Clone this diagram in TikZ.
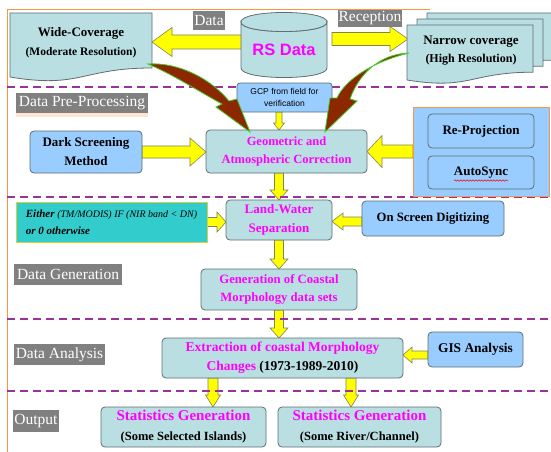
\documentclass[tikz,border=0pt]{standalone}
\usepackage{fontspec}
\setmainfont{Liberation Serif}
\newfontfamily\tnr{Liberation Serif}
\newfontfamily\arialf{Liberation Sans}
\usetikzlibrary{calc,decorations.pathmorphing}

\definecolor{boxcyan}{RGB}{185,223,227}
\definecolor{boxblue}{RGB}{153,204,255}
\definecolor{boxgray}{RGB}{95,110,112}
\definecolor{tealbox}{RGB}{51,204,204}
\definecolor{tealedge}{RGB}{210,210,60}
\definecolor{purp}{RGB}{153,51,153}
\definecolor{orng}{RGB}{247,150,70}
\definecolor{lblgray}{RGB}{128,128,128}
\definecolor{brownr}{RGB}{140,40,0}
\definecolor{grn}{RGB}{70,200,40}
\definecolor{yell}{RGB}{255,255,0}
\definecolor{yedge}{RGB}{130,130,90}
\definecolor{mag}{RGB}{255,0,255}

\newcommand\fs[2]{\tnr\fontsize{#1}{#2}\selectfont}

\pgfdeclarelayer{background}
\pgfdeclarelayer{middle}
\pgfsetlayers{background,middle,main}

\tikzset{
  cbox/.style={draw=boxgray, fill=boxcyan, rounded corners=4pt, line width=0.8pt,
    align=center, inner sep=0pt, outer sep=0pt},
  bbox/.style={cbox, fill=boxblue},
  docstyle/.style={draw=boxgray, fill=boxcyan, line width=0.8pt},
  lbl/.style={fill=lblgray, text=white, inner sep=0pt, outer sep=0pt, font=\fs{15.5}{18}},
  yarrow/.style={fill=yell, draw=yedge, line width=0.6pt, line join=miter},
  sepline/.style={draw=purp, line width=1.6pt, dash pattern=on 8pt off 5pt},
  brarrow/.style={fill=brownr, draw=grn, line width=0.8pt},
}

% horizontal block arrow: start, tip, body half, head half, head length
\newcommand\harrow[5]{\filldraw[yarrow] let \p1=(#1), \p2=(#2), \n1={(\x2>\x1)?1:-1} in
  (\x1,{\y1+#3}) -- ({\x2-(\n1)*#5},{\y1+#3}) -- ({\x2-(\n1)*#5},{\y1+#4}) -- (\x2,\y1)
  -- ({\x2-(\n1)*#5},{\y1-#4}) -- ({\x2-(\n1)*#5},{\y1-#3}) -- (\x1,{\y1-#3}) -- cycle;}
% vertical block arrow
\newcommand\varrow[5]{\filldraw[yarrow] let \p1=(#1), \p2=(#2), \n1={(\y2>\y1)?1:-1} in
  ({\x1-#3},\y1) -- ({\x1-#3},{\y2-(\n1)*#5}) -- ({\x1-#4},{\y2-(\n1)*#5}) -- (\x1,\y2)
  -- ({\x1+#4},{\y2-(\n1)*#5}) -- ({\x1+#3},{\y2-(\n1)*#5}) -- ({\x1+#3},\y1) -- cycle;}

\begin{document}
\begin{tikzpicture}[x=1pt,y=-1pt]
\useasboundingbox (0,0) rectangle (551,452);
\begin{pgfonlayer}{background}
  \fill[white] (0,0) rectangle (551,452);
  \draw[orng, line width=1pt] (430,10) -- (7,10) -- (7,452);
\end{pgfonlayer}

\begin{pgfonlayer}{middle}
  \foreach \yy in {87,197,319,391} \draw[sepline] (7,\yy) -- (551,\yy);
\end{pgfonlayer}

% document shapes
\filldraw[docstyle] (10,13) -- (152,13) -- (152,68) .. controls (81,68) and (81,88.9) .. (10,77) -- cycle;
\foreach \dx/\dy in {20/-12, 10/-6, 0/0} {
  \filldraw[docstyle, shift={(\dx,\dy)}] (407,25) -- (533,25) -- (533,72.2)
     .. controls (470,72.2) and (470,90.3) .. (407,80) -- cycle;
}
% cylinder
\filldraw[docstyle] (241,22) -- (241,68) .. controls (241,80.67) and (327,80.67) .. (327,68)
  -- (327,22) .. controls (327,34.67) and (241,34.67) .. (241,22) -- cycle;
\filldraw[docstyle] (241,22) .. controls (241,9.33) and (327,9.33) .. (327,22)
  .. controls (327,34.67) and (241,34.67) .. (241,22) -- cycle;

% text of shapes
\node[align=center, inner sep=0pt, outer sep=0pt, minimum width=142pt, minimum height=58pt,
  font=\fs{13}{19}\bfseries]
  (wide) at (81,43) {Wide-Coverage\\{\fs{11.5}{19}\bfseries(Moderate Resolution)}};
\node[align=center, inner sep=0pt, outer sep=0pt, minimum width=126pt, minimum height=47pt,
  font=\fs{13}{18}\bfseries]
  (narrow) at (471,51) {Narrow coverage\\{\fs{12}{18}\bfseries(High Resolution)}};
\node[inner sep=0pt, outer sep=0pt, minimum width=86pt, minimum height=56pt, text=mag,
  font=\fs{16.5}{18}\arialf\bfseries] (rs) at (284,50) {RS Data};

% labels
\node[lbl, minimum width=32pt, minimum height=19pt] (ldata) at (209,20.5) {Data};
\node[lbl, minimum width=64pt, minimum height=17pt] (lrec) at (370,18.5) {Reception};
\fill[orng!25] (16,113) rectangle (148,117);
\node[lbl, minimum width=132pt, minimum height=20pt] (lpre) at (82,103) {Data Pre-Processing};
\node[lbl, minimum width=108pt, minimum height=21pt] (lgen) at (68,274.5) {Data Generation};
\node[lbl, minimum width=91pt, minimum height=21pt] (lana) at (59.5,354.5) {Data Analysis};
\node[lbl, minimum width=46pt, minimum height=22pt] (lout) at (36,421) {Output};

% boxes
\node[bbox, rounded corners=3pt, minimum width=95pt, minimum height=29pt, font=\fs{8.5}{12}\arialf]
  (gcp) at (284.5,97.5) {GCP from field for\\verification};
\node[cbox, minimum width=161pt, minimum height=43pt, text=mag, font=\fs{12.5}{18.5}\bfseries]
  (geo) at (286.5,151.5) {Geometric and\\Atmospheric Correction};
\node[bbox, minimum width=112pt, minimum height=42pt, font=\fs{13}{19}\bfseries]
  (dark) at (86,152) {Dark Screening\\Method};
\node[draw=orng, fill=boxblue, line width=1pt, inner sep=0pt, outer sep=0pt,
  minimum width=136pt, minimum height=89pt] (rbox) at (481,151.5) {};
\node[bbox, minimum width=106pt, minimum height=34pt, font=\fs{13}{16}\bfseries]
  (reproj) at (481,131) {Re-Projection};
\node[bbox, minimum width=106pt, minimum height=33pt, font=\fs{13}{16}\bfseries]
  (autosync) at (481,172.5) {AutoSync};
\draw[red, line width=0.5pt, decorate, decoration={snake, amplitude=0.7pt, segment length=3pt}]
  ($(autosync.center)+(-27,8)$) -- ($(autosync.center)+(27,8)$);
\node[cbox, minimum width=106pt, minimum height=40pt, text=mag, font=\fs{13}{19}\bfseries]
  (lw) at (279,220) {Land-Water\\Separation};
\node[draw=tealedge, fill=tealbox, line width=0.8pt, inner sep=0pt, outer sep=0pt, align=left,
  minimum width=191pt, minimum height=40pt, font=\fs{11}{17}\bfseries\itshape]
  (either) at (111.5,222) {Either {\fs{10}{17}\mdseries\itshape(TM/MODIS) IF (NIR band < DN)}\\or 0 otherwise};
\node[bbox, minimum width=142pt, minimum height=35pt, font=\fs{12.7}{16}\bfseries]
  (osd) at (433,218.5) {On Screen Digitizing};
\node[cbox, minimum width=156pt, minimum height=41pt, text=mag, font=\fs{12.7}{18}\bfseries]
  (gen) at (279,289.5) {Generation of Coastal\\Morphology data sets};
\node[cbox, minimum width=241pt, minimum height=40pt, text=mag, font=\fs{13.5}{19}\bfseries]
  (ext) at (282.5,358) {Extraction of coastal Morphology\\Changes {\color{black}(1973-1989-2010)}};
\node[bbox, minimum width=95pt, minimum height=35pt, font=\fs{13.4}{16}\bfseries]
  (gis) at (475.5,349.5) {GIS Analysis};
\node[cbox, minimum width=165pt, minimum height=40pt, font=\fs{15}{20}\bfseries]
  (st1) at (183.5,427) {{\color{mag}Statistics Generation}\\{\fs{12.5}{20}\bfseries(Some Selected Islands)}};
\node[cbox, minimum width=163pt, minimum height=40pt, font=\fs{15}{20}\bfseries]
  (st2) at (359.5,427) {{\color{mag}Statistics Generation}\\{\fs{12.5}{20}\bfseries(Some River/Channel)}};

% yellow block arrows
\begin{pgfonlayer}{background}
  \harrow{$(rs.west)+(3,-8)$}{wide.east}{7pt}{14.5pt}{20pt}
  \harrow{$(rs.east)+(5,-11)$}{narrow.west}{6.5pt}{12.5pt}{18pt}
  \harrow{dark.east}{geo.west}{6pt}{14pt}{16pt}
  \harrow{rbox.west}{geo.east}{6.5pt}{16pt}{15pt}
  \varrow{gcp.south -| lw.north}{geo.north}{3pt}{5.5pt}{7pt}
  \varrow{geo.south -| lw.north}{lw.north}{4.5pt}{9pt}{10pt}
  \harrow{either.east}{lw.west}{4.5pt}{10pt}{9pt}
  \harrow{$(osd.west)+(0,3)$}{lw.east}{4.5pt}{8.5pt}{11pt}
  \varrow{lw.south}{gen.north}{4.5pt}{9pt}{10pt}
  \varrow{gen.south}{ext.north}{4.5pt}{9pt}{10pt}
  \harrow{$(gis.west)+(0,5.5)$}{ext.east}{4pt}{8pt}{9pt}
  \varrow{$(ext.south)+(-69.5,0)$}{st1.north}{5pt}{7.5pt}{12pt}
  \varrow{$(ext.south)+(68.5,0)$}{st2.north}{5pt}{7.5pt}{12pt}
\end{pgfonlayer}

% brown curved arrows
\filldraw[brarrow] ($(wide.south east)+(-4,-8)$) .. controls (180,62) and (212,80) .. (229,101)
  -- (237,99) -- ($(geo.north west)+(44,2)$) -- (216,107) -- (222,104)
  .. controls (200,92) and (172,74) .. ($(wide.south east)+(-4,-8)$) -- cycle;
\filldraw[brarrow] ($(narrow.west)+(1,2)$) .. controls (378,54) and (358,76) .. (350,99)
  -- (357,101) -- ($(geo.north east)+(-42,2)$) -- (330,98) -- (337,98)
  .. controls (345,80) and (372,62) .. ($(narrow.west)+(1,2)$) -- cycle;
\end{tikzpicture}
\end{document}
